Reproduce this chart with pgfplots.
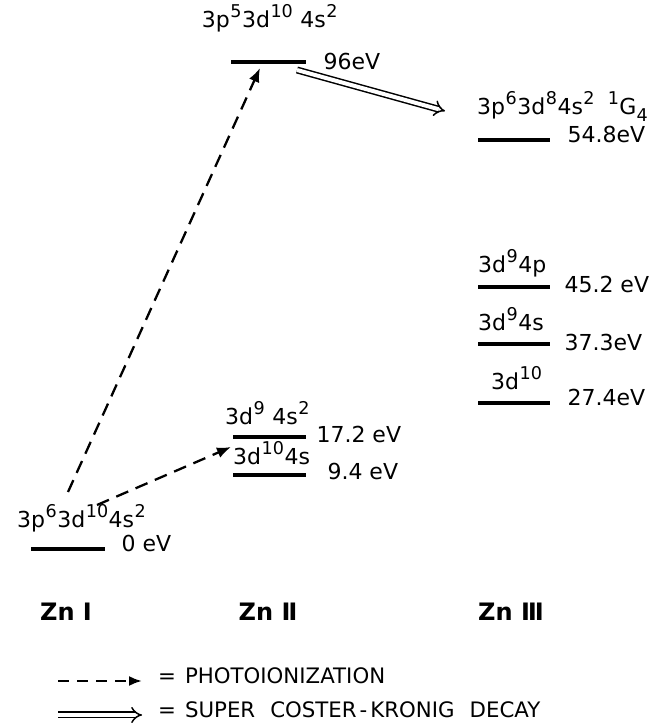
\documentclass[border=0pt]{standalone}
\usepackage{graphicx}
\usepackage{fontspec}
\setmainfont{DejaVu Sans}
\usepackage{pgfplots}
\pgfplotsset{compat=1.18}
\usetikzlibrary{arrows.meta}
\newcommand{\su}[1]{\kern0.5pt\relax\raisebox{0.48em}{\scalebox{0.8}{#1}}\kern0.5pt\relax}
\newcommand{\sbs}[1]{\raisebox{-0.3em}{\scalebox{0.8}{#1}}}
\newcommand{\lbl}{\fontsize{22}{24}\selectfont}
\newcommand{\zlbl}{\fontsize{24}{26}\selectfont\bfseries}
\newcommand{\leg}{\fontsize{21.3}{23}\selectfont}
\begin{document}
\begin{tikzpicture}
\begin{axis}[hide axis, scale only axis, width=667pt, height=728pt,
  xmin=0, xmax=667, ymin=0, ymax=728, clip=false, at={(0,0)}, anchor=south west]
% energy levels (drawing positions)
\addplot[black, line width=3.8pt] coordinates {(31,179) (105,179)};   % Zn I 0 eV
\addplot[black, line width=3.8pt] coordinates {(231,666) (306,666)};  % 96 eV
\addplot[black, line width=3.8pt] coordinates {(233,291) (306,291)};  % 17.2 eV
\addplot[black, line width=3.8pt] coordinates {(233,253) (306,253)};  % 9.4 eV
\addplot[black, line width=3.8pt] coordinates {(478,588) (550,588)};  % 54.8 eV
\addplot[black, line width=3.8pt] coordinates {(478,441) (550,441)};  % 45.2 eV
\addplot[black, line width=3.8pt] coordinates {(478,384) (550,384)};  % 37.3 eV
\addplot[black, line width=3.8pt] coordinates {(478,325) (550,325)};  % 27.4 eV
% transitions
\addplot[black, line width=2.3pt, dash pattern=on 13pt off 8pt, -{Latex[length=14pt,width=11pt]}] coordinates {(68,236) (260,660)};
\addplot[black, line width=2.3pt, dash pattern=on 13pt off 8pt, -{Latex[length=14pt,width=11pt]}] coordinates {(97,223) (231,281)};
\addplot[black, line width=1.5pt, double, double distance=4pt, -{Implies}] coordinates {(297,658) (445,617)};
% legend
\addplot[black, line width=2.3pt, dash pattern=on 11pt off 8pt, -{Latex[length=13pt,width=10pt]}] coordinates {(58,47) (142,47)};
\addplot[black, line width=1.5pt, double, double distance=4pt, -{Implies}] coordinates {(58,13) (142,13)};
% labels
\node[anchor=mid, font=\lbl] at (axis cs:270,703) {3p\su{5}3d\su{10} 4s\su{2}};
\node[anchor=mid west, font=\lbl] at (axis cs:320,661) {96eV};
\node[anchor=mid west, font=\lbl, inner sep=0pt] at (axis cs:477,616) {3p\su{6}3d\su{8}4s\su{2}\hspace{0.55em}\su{1}G\sbs{4}};
\node[anchor=mid west, font=\lbl] at (axis cs:564,588) {54.8eV};
\node[anchor=mid west, font=\lbl, inner sep=0pt] at (axis cs:478,458) {3d\su{9}4p};
\node[anchor=mid west, font=\lbl] at (axis cs:561,438) {45.2 eV};
\node[anchor=mid west, font=\lbl, inner sep=0pt] at (axis cs:478,400) {3d\su{9}4s};
\node[anchor=mid west, font=\lbl] at (axis cs:561,380) {37.3eV};
\node[anchor=mid west, font=\lbl, inner sep=0pt] at (axis cs:491,341) {3d\su{10}};
\node[anchor=mid west, font=\lbl] at (axis cs:564,325) {27.4eV};
\node[anchor=mid west, font=\lbl, inner sep=0pt] at (axis cs:225,306) {3d\su{9} 4s\su{2}};
\node[anchor=mid west, font=\lbl] at (axis cs:313,288) {17.2 eV};
\node[anchor=mid west, font=\lbl, inner sep=0pt] at (axis cs:233,266) {3d\su{10}4s};
\node[anchor=mid west, font=\lbl] at (axis cs:324,251) {9.4 eV};
\node[anchor=mid west, font=\lbl, inner sep=0pt] at (axis cs:17,203) {3p\su{6}3d\su{10}4s\su{2}};
\node[anchor=mid west, font=\lbl] at (axis cs:118,179) {0 eV};
\node[anchor=mid, font=\zlbl] at (axis cs:66,110) {Zn Ⅰ};
\node[anchor=mid, font=\zlbl] at (axis cs:268,110) {Zn Ⅱ};
\node[anchor=mid, font=\zlbl] at (axis cs:511,110) {Zn Ⅲ};
\node[anchor=mid west, font=\leg, inner sep=0pt] at (axis cs:158,47) {=\hspace{9pt}PHOTOIONIZATION};
\node[anchor=mid west, font=\leg, inner sep=0pt] at (axis cs:158,13) {=\hspace{9pt}SUPER\hspace{15pt}COSTER\hspace{3pt}-\hspace{3pt}KRONIG\hspace{15pt}DECAY};
\end{axis}
\pgfresetboundingbox
\path (0,0) rectangle (667pt,728pt);
\end{tikzpicture}
\end{document}
